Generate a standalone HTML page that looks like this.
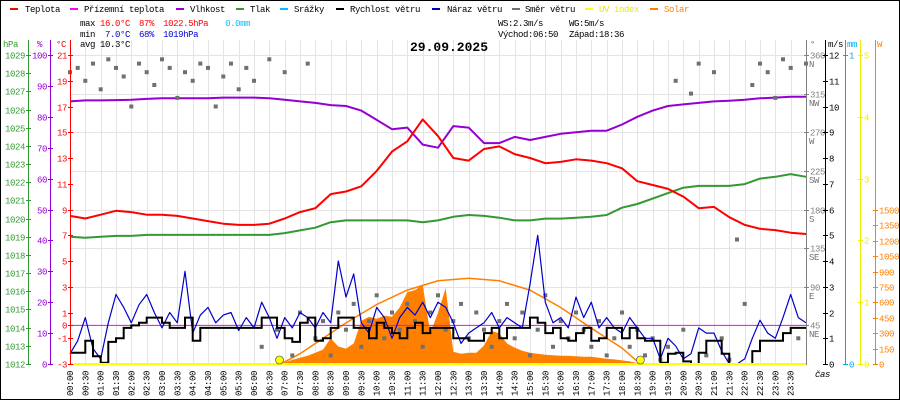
<!DOCTYPE html>
<html><head><meta charset="utf-8">
<style>
html,body{margin:0;padding:0;background:#fff;}
svg{display:block;}
text{font-family:"Liberation Mono",monospace;font-size:9px;letter-spacing:-0.4px;}
</style></head>
<body>
<svg id="chart" width="900" height="400" viewBox="0 0 900 400" xmlns="http://www.w3.org/2000/svg">
<rect x="0.5" y="0.5" width="899" height="399" fill="#fff" stroke="#000"/>
<g id="grid"></g>
<g id="series"></g>
<g id="axes"></g>
<g>
 <g><rect x="10" y="8" width="8" height="2" fill="#ff0000"/><text x="25" y="12">Teplota</text></g>
 <g><rect x="70" y="8" width="8" height="2" fill="#ff00ff"/><text x="84" y="12">Přízemní teplota</text></g>
 <g><rect x="176" y="8" width="8" height="2" fill="#9400d3"/><text x="190" y="12">Vlhkost</text></g>
 <g><rect x="236" y="8" width="8" height="2" fill="#339933"/><text x="250" y="12">Tlak</text></g>
 <g><rect x="280" y="8" width="8" height="2" fill="#00bfff"/><text x="294" y="12">Srážky</text></g>
 <g><rect x="336" y="8" width="8" height="2" fill="#000"/><text x="350" y="12">Rychlost větru</text></g>
 <g><rect x="432" y="8" width="8" height="2" fill="#0000cc"/><text x="447" y="12">Náraz větru</text></g>
 <g><rect x="512" y="8" width="8" height="2" fill="#707070"/><text x="525" y="12">Směr větru</text></g>
 <g><rect x="585" y="8" width="8" height="2" fill="#ffff00"/><text x="599" y="12" fill="#e8e800">UV index</text></g>
 <g><rect x="650" y="8" width="8" height="2" fill="#ff8000"/><text x="664" y="12" fill="#ff8000">Solar</text></g>
</g>
<g>
 <text x="80" y="26">max <tspan fill="#ff0000">16.0°C</tspan> <tspan fill="#ff0000" dx="4">87%</tspan> <tspan fill="#ff0000" dx="4">1022.5hPa</tspan> <tspan fill="#00bfff" dx="12">0.0mm</tspan></text>
 <text x="80" y="37">min <tspan fill="#0000cc" dx="5">7.0°C</tspan> <tspan fill="#0000cc" dx="4">68%</tspan> <tspan fill="#0000cc" dx="4">1019hPa</tspan></text>
 <text x="80" y="47">avg 10.3°C</text>
 <text x="498" y="26">WS:2.3m/s</text><text x="569" y="26">WG:5m/s</text>
 <text x="498" y="37">Východ:06:50</text><text x="569" y="37">Západ:18:36</text>
</g>
<text x="449" y="51" text-anchor="middle" style="font-size:13px;font-weight:bold;letter-spacing:0">29.09.2025</text>
<text x="815" y="377" style="font-style:italic">čas</text>
</svg>
<script>
const tempVals=[8.5,8.3,8.6,8.9,8.8,8.6,8.6,8.5,8.3,8.1,7.9,7.8,7.8,7.9,8.3,8.8,9.1,10.2,10.4,10.8,12.0,13.5,14.3,16.0,14.7,13.0,12.8,13.7,13.9,13.3,13.0,12.6,12.7,12.9,12.8,12.6,12.2,11.2,10.9,10.6,10.0,9.1,9.2,8.4,7.8,7.5,7.4,7.2,7.1];
const humVals=[85,85.3,85.3,85.4,85.5,85.8,86,86,86,86,86.2,86.2,86.2,86,85.5,85,84.5,83.8,83.5,82,79,76,76.5,71,70,77,76.5,71.5,71.5,73.5,72.5,73.5,74.5,75,75.5,75.5,77.5,80,82,83.5,84,84.5,85,85.2,85.5,86,86.2,86.5,86.5];
const presVals=[1019.0,1018.95,1019.0,1019.05,1019.05,1019.1,1019.1,1019.1,1019.1,1019.1,1019.1,1019.1,1019.1,1019.1,1019.2,1019.35,1019.5,1019.8,1019.9,1019.9,1019.9,1019.9,1019.9,1019.8,1019.9,1020.1,1020.2,1020.15,1020.05,1019.9,1019.9,1020.0,1020.0,1020.05,1020.1,1020.2,1020.6,1020.8,1021.1,1021.4,1021.7,1021.8,1021.8,1021.8,1021.9,1022.2,1022.3,1022.45,1022.3];
const windVals=[0.44,0.44,0.9,0.3,0.05,0.86,1.0,1.4,1.5,1.6,1.8,1.8,1.6,1.4,1.4,1.8,0.9,1.4,1.4,1.4,1.4,1.4,1.4,1.4,1.4,1.8,1.8,1.4,1.0,0.86,1.6,1.8,
0.9,1.0,1.4,1.8,1.8,1.4,1.4,1.0,1.6,1.4,1.2,1.0,1.4,1.6,1.2,1.4,1.4,1.4,1.0,1.0,0.9,0.9,1.2,1.4,1.0,1.4,1.4,1.4,1.8,1.6,1.2,1.4,1.0,0.9,1.2,1.4,0.9,1.0,
1.4,1.4,1.0,1.4,1.0,0.9,0.9,0.05,0.4,0.44,0.1,0.0,0.44,0.9,0.9,0.4,0.0,0.0,0.0,0.5,0.9,0.9,0.9,1.2,1.4,1.4,1.4];
const gustVals=[0.4,0.9,1.8,0.6,0.2,1.6,2.7,2.2,1.6,2.3,2.7,2.0,1.4,2.0,1.6,3.6,1.2,1.9,2.2,1.6,1.9,2.0,1.3,1.8,1.4,2.4,1.8,1.0,1.8,1.4,2.0,1.8,
1.4,2.0,1.6,4.0,2.6,3.5,1.6,1.2,2.2,1.8,1.0,1.8,2.2,1.9,2.4,1.8,2.4,2.2,1.6,0.8,1.2,1.4,1.6,2.0,1.4,1.8,1.6,1.4,3.1,5.0,2.4,1.6,1.8,1.4,2.6,1.8,2.4,1.4,
1.8,1.4,1.2,1.8,1.4,1.0,1.0,0.2,1.0,0.7,0.2,0.4,1.4,1.2,1.2,0.5,0.0,0.0,0.2,1.0,1.7,1.2,1.0,1.8,2.7,1.8,1.6];
const dirVals=[340,345,330,350,320,355,345,335,300,350,340,325,355,345,310,340,330,350,345,300,335,350,320,345,
330,20,355,40,340,10,60,350,
30,50,10,60,40,70,20,50,80,30,60,40,70,50,20,60,80,40,50,70,30,60,40,20,50,70,30,60,10,40,80,20,50,30,60,40,20,50,10,30,60,20,40,10,30,
5,20,330,40,315,350,10,340,30,5,
145,70,325,350,340,310,355,345,30,350];
const solarStart=6.75;
const solarVals=[0,15,40,60,80,110,140,250,170,150,200,420,460,440,470,460,550,700,720,770,300,500,740,120,100,110,110,180,320,300,200,160,130,110,100,90,85,80,80,75,70,70,60,50,45,35,25,10,0];
const solarMaxHours=[6.83,7,7.5,8,9,10,11,12,13,14,15,16,17,18,18.6];
const solarMaxVals=[0,20,100,200,400,580,720,810,835,810,720,550,350,155,0];
const sunEvents=[6.833,18.6];
const tempTicks=[21,19,17,15,13,11,9,7,5,3,1,0,-1,-3];
const humTicks=[100,90,80,70,60,50,40,30,20,10,0];
const presTicks=[1029,1028,1027,1026,1025,1024,1023,1022,1021,1020,1019,1018,1017,1016,1015,1014,1013,1012];
const dirTicks=[360,315,270,225,180,135,90,45];
const dirNames=["N","NW","W","SW","S","SE","E","NE"];
const msTicks=[12,11,10,9,8,7,6,5,4,3,2,1,0];
const uvTicks=[5,4,3,2,1,0];
const wTicks=[1500,1350,1200,1050,900,750,600,450,300,150,0];

const NS="http://www.w3.org/2000/svg";
const X0=70,X1=806,YT=55,YB=364;
const xT=h=>X0+h*(X1-X0)/24;
const yTemp=v=>YB-(v+3)*(YB-YT)/24;
const yHum=v=>YB-v*(YB-YT)/100;
const yPres=v=>YB-(v-1012)*(YB-YT)/17;
const yMs=v=>YB-v*(YB-YT)/12;
const yDir=v=>YB-v*(YB-YT)/360;
const yUV=v=>YB-v*(YB-YT)/5;
const yW=v=>YB-v*(YB-210)/1500;
function mk(tag,attrs,parent){const e=document.createElementNS(NS,tag);for(const k in attrs)e.setAttribute(k,attrs[k]);parent.appendChild(e);return e;}
const grid=document.getElementById('grid'),ser=document.getElementById('series'),ax=document.getElementById('axes');

// grid
for(let i=0;i<=48;i++){const x=Math.round(xT(i/2))+0.5;const l=mk('line',{x1:x,x2:x,y1:40,y2:YB,stroke:'#e4e4e4'},grid);

}
dirTicks.forEach(d=>{const y=Math.round(yDir(d))+0.5;const l=mk('line',{x1:X0,x2:X1,y1:y,y2:y,stroke:'#e4e4e4'},grid);

});

// solar area
{let pts=[];solarVals.forEach((v,i)=>{pts.push(xT(solarStart+i*0.25).toFixed(1)+','+yW(v).toFixed(1));});
pts.push(xT(solarStart+(solarVals.length-1)*0.25).toFixed(1)+','+YB);pts.push(xT(solarStart).toFixed(1)+','+YB);
const p=mk('polygon',{points:pts.join(' '),fill:'#ff8000'},ser);

}
// solar max curve
{const pts=solarMaxHours.map((h,i)=>xT(h).toFixed(1)+','+yW(solarMaxVals[i]).toFixed(1)).join(' ');
const p=mk('polyline',{points:pts,fill:'none',stroke:'#ff8000','stroke-width':1.5},ser);

}
// zero line (magenta)
{const y=yTemp(0);const l=mk('line',{x1:X0,x2:X1,y1:y,y2:y,stroke:'#ff00ff','stroke-width':1},ser);

}
function line(vals,step,yf,color,w,name){const pts=vals.map((v,i)=>xT(i*step).toFixed(1)+','+yf(v).toFixed(1)).join(' ');
const p=mk('polyline',{points:pts,fill:'none',stroke:color,'stroke-width':w,'stroke-linejoin':'round'},ser);return p;}
let p;
p=line(presVals,0.5,yPres,'#339933',2);


p=line(humVals,0.5,yHum,'#9400d3',2);


p=line(tempVals,0.5,yTemp,'#ff0000',2);


// direction squares
dirVals.forEach((d,i)=>{const r=mk('rect',{x:(xT(i*0.25)-2).toFixed(1),y:(yDir(d)-2).toFixed(1),width:4,height:4,fill:'#707070'},ser);

});
p=line(gustVals,0.25,yMs,'#0000cc',1.2);


// wind speed step line
{let pts=[];windVals.forEach((v,i)=>{const x0=xT(i*0.25),x1=xT(Math.min(24,(i+1)*0.25));pts.push(x0.toFixed(1)+','+yMs(v).toFixed(1));pts.push(x1.toFixed(1)+','+yMs(v).toFixed(1));});
const w=mk('polyline',{points:pts.join(' '),fill:'none',stroke:'#000','stroke-width':2},ser);

}
// UV line
{const l=mk('line',{x1:X0,x2:X1,y1:YB,y2:YB,stroke:'#ffff00','stroke-width':2},ser);

}
sunEvents.forEach(h=>{const c=mk('circle',{cx:xT(h).toFixed(1),cy:YB-4,r:4,fill:'#ffff00',stroke:'#666','stroke-width':0.8},ser);

});

// axes
function axis(x,color,ticks,yf,labelSide,name,fmt){
 const g=mk('g',{},ax);
 
 
 mk('line',{x1:x+0.5,x2:x+0.5,y1:40,y2:YB+1,stroke:color,'stroke-width':1},g);
 ticks.forEach((t,i)=>{const y=Math.round(yf(t))+0.5;mk('line',{x1:x-2,x2:x+3,y1:y,y2:y,stroke:color},g);
  const tx=mk('text',{x:labelSide<0?x-3:x+4,y:y+3,fill:color,'text-anchor':labelSide<0?'end':'start'},g);tx.textContent=fmt?fmt(t,i):t;});
 return g;}
axis(28,'#339933',presTicks,yPres,-1,'pressure-axis');
axis(50,'#9400d3',humTicks,yHum,-1,'humidity-axis');
axis(70,'#ff0000',tempTicks,yTemp,-1,'temperature-axis');
{const g=axis(806,'#808080',dirTicks,yDir,1,'direction-axis');
 dirTicks.forEach((t,i)=>{const tx=mk('text',{x:809,y:Math.round(yDir(t))+12,fill:'#707070'},g);tx.textContent=dirNames[i];});}
axis(825,'#000',msTicks,yMs,1,'wind-speed-axis');
{const g=axis(845,'#00aaee',[1,0],v=>YB-v*(YB-YT),1,'rain-axis');}
axis(860,'#eeee00',uvTicks,yUV,1,'uv-axis');
{const g=mk('g',{},ax);
 
 
 mk('line',{x1:875.5,x2:875.5,y1:40,y2:YB+1,stroke:'#ff8000'},g);
 wTicks.forEach(t=>{const y=Math.round(yW(t))+0.5;mk('line',{x1:873,x2:878,y1:y,y2:y,stroke:'#ff8000'},g);
  const tx=mk('text',{x:879,y:y+3,fill:'#ff8000'},g);tx.textContent=t;});}
// unit labels
[['hPa',3,'#339933'],['%',37,'#9400d3'],['°C',56,'#ff0000'],['°',810,'#707070'],['m/s',828,'#000'],['mm',847,'#00aaee'],['W',877,'#ff8000']].forEach(u=>{
 const t=mk('text',{x:u[1],y:47,fill:u[2]},ax);t.textContent=u[0];
 
 });
// time labels
for(let i=0;i<48;i++){const h=Math.floor(i/2),m=i%2?'30':'00';const lbl=(h<10?'0':'')+h+':'+m;const x=xT(i/2)+3;
 const t=mk('text',{x:0,y:0,transform:'translate('+x.toFixed(1)+',396) rotate(-90)'},ax);t.textContent=lbl;
 
 }
</script>
</body></html>
